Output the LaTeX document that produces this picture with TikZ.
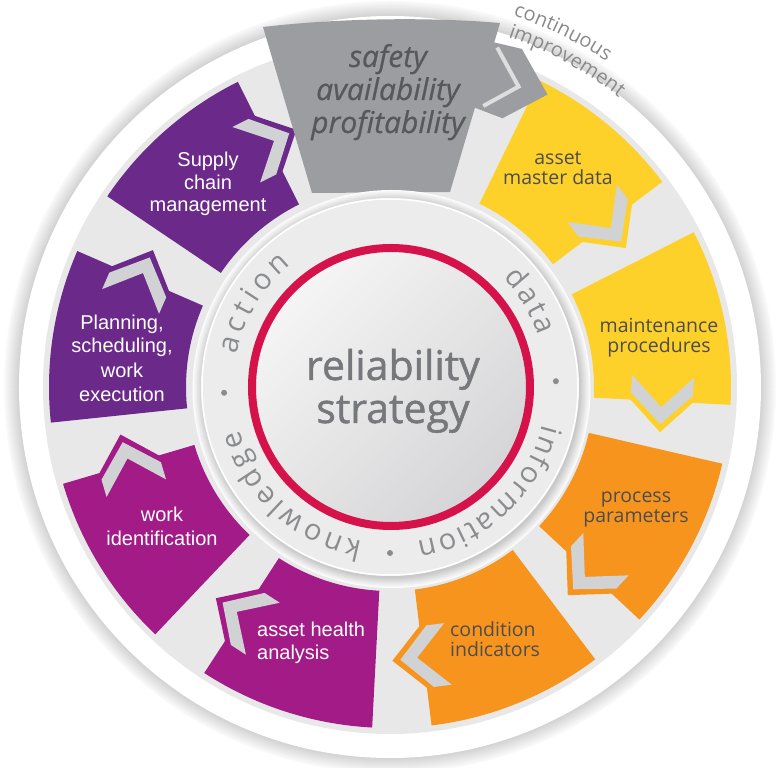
\documentclass[tikz,border=0pt]{standalone}
\usepackage{fontspec}
\setmainfont{Open Sans}
\newfontfamily\arialf{Liberation Sans}
\newfontfamily\ctrfont[FakeBold=1.2]{Open Sans}
\newfontfamily\grayfont[FakeBold=0.6]{Open Sans}
\usetikzlibrary{decorations.text}
\definecolor{cyel}{HTML}{FDD02A}
\definecolor{corg}{HTML}{F7941E}
\definecolor{cpur}{HTML}{6B2A89}
\definecolor{cmag}{HTML}{A31B86}
\definecolor{cgry}{HTML}{9C9DA0}
\definecolor{cchev}{HTML}{D1D2D4}
\definecolor{cband}{HTML}{E8E8E9}
\definecolor{cring}{HTML}{ECECED}
\definecolor{cred}{HTML}{D6124A}
\definecolor{ctxt}{HTML}{4D4D4F}
\definecolor{cgtxt}{HTML}{58585B}
\definecolor{cctr}{HTML}{77787B}
\definecolor{cringtxt}{HTML}{8B8C8E}
\definecolor{cci}{HTML}{8A8A8C}
\definecolor{cinA}{HTML}{F5F5F5}
\definecolor{cinB}{HTML}{D5D5D7}
\definecolor{cvline}{HTML}{DEDEDF}
\newcommand{\drawseg}[3]{%
  \fill[#3] (#1:204pt) -- (#1:341pt) arc[start angle=#1, end angle=#2, radius=341pt]
     -- (#2:204pt) arc[start angle=#2, end angle=#1, radius=204pt] -- cycle;
  \begin{scope}[rotate=#2]
    \fill[#3] (236,20) -- (236,5) -- (272,-31) -- (308,5) -- (308,20) -- cycle;
    \fill[cchev] (272,-23) -- (303,7) -- (303,25) -- (272,-6) -- (241,25) -- (241,7) -- cycle;
  \end{scope}}
\tikzset{
  seglabel/.style={inner sep=0pt, text=ctxt, font=\fontsize{19.5}{20}\selectfont},
  purlabel/.style={inner sep=0pt, text=white, font=\arialf\fontsize{20}{22}\selectfont},
  graylabel/.style={inner sep=0pt, text=cgtxt, font=\grayfont\itshape\fontsize{30}{33}\selectfont},
  ctrlabel/.style={inner sep=0pt, text=cctr, font=\ctrfont\fontsize{41}{43}\selectfont},
  ringtext/.style={decorate, decoration={text along path, text align=fit to path,
     text color=cringtxt, text={|\fontsize{29}{29}\selectfont|#1}}},
  citext/.style={decorate, decoration={text along path, text align=center,
     text color=cci, text={|\fontsize{20}{20}\selectfont|#1}}},
}
\begin{document}
\begin{tikzpicture}[x=1pt,y=1pt]
\useasboundingbox (-390,-381) rectangle (390,387);
\fill[white] (-390,-381) rectangle (390,387);
% outer rim shadow
\foreach \k in {15,14,...,0} {
  \pgfmathsetmacro{\op}{2+16*(1-\k/15)}
  \fill[black!\op] (0,0) circle[radius={(371+\k)*1pt}];
}
\fill[white] (0,0) circle[radius=371pt];
\fill[cband] (0,0) circle[radius=347pt];
% segments
\drawseg{64}{37}{cyel}
\drawseg{27}{-3}{cyel}
\drawseg{-13}{-43}{corg}
\drawseg{-53}{-83}{corg}
\drawseg{-93}{-123}{cmag}
\drawseg{-133.5}{-163.5}{cmag}
\drawseg{186}{156.5}{cpur}
\drawseg{146}{116.5}{cpur}
% gray top segment
\fill[cgry] (-127,360) .. controls (-50,369) and (40,370) .. (110,364) -- (60,195) -- (-78,194) -- cycle;
\begin{scope}[rotate=72.8]
  \fill[cgry] (360,3) -- (362,-26) -- (326,-64) -- (290,-28) -- (292,3) -- cycle;
  \draw[cvline, line width=4pt] (356,-2) -- (325,-34) -- (296,-6);
\end{scope}
% inner ring with shadow
\foreach \k in {10,9,...,0} {
  \pgfmathsetmacro{\op}{1+20*(1-\k/10)}
  \fill[black!\op] (1.5,-2) circle[radius={(189+\k)*1pt}];
}
\fill[cring] (0,0) circle[radius=189pt];
\draw[white, line width=1.5pt] (0,0) circle[radius=188pt];
\shade[top color=cinA, bottom color=cinB, shading angle=45] (1,0) circle[radius=137pt];
\draw[cred, line width=8pt] (1,0) circle[radius=139pt];
% ring texts
\path[ringtext=data] (44:157pt) arc[start angle=44, end angle=19, radius=157pt];
\path[ringtext=information] (-14:157pt) arc[start angle=-14, end angle=-80, radius=157pt];
\path[ringtext=knowledge] (-100:157pt) arc[start angle=-100, end angle=-164, radius=157pt];
\path[ringtext=action] (168:157pt) arc[start angle=168, end angle=129, radius=157pt];
\fill[cringtxt] (2:166pt) circle[radius=3pt];
\fill[cringtxt] (-90:166pt) circle[radius=3pt];
\fill[cringtxt] (182:166pt) circle[radius=3pt];
% continuous improvement
\path[citext=continuous] (82:391pt) arc[start angle=82, end angle=46, radius=391pt];
\path[citext=improvement] (80:369pt) arc[start angle=80, end angle=43, radius=369pt];
% center
\node[ctrlabel, anchor=base] (c1) at (3,7) {reliability};
\node[ctrlabel, anchor=base] (c2) at (3,-36) {strategy};
% gray labels
\node[graylabel, anchor=base] (g1) at (-2,320) {safety};
\node[graylabel, anchor=base] (g2) at (-2,287) {availability};
\node[graylabel, anchor=base] (g3) at (-2,254) {profitability};
% yellow/orange labels
\node[seglabel, anchor=base] (a1) at (168,222) {asset};
\node[seglabel, anchor=base] (a2) at (168,202) {master data};
\node[seglabel, anchor=base] (m1) at (269,54) {maintenance};
\node[seglabel, anchor=base] (m2) at (269,34) {procedures};
\node[seglabel, anchor=base] (p1) at (246,-116) {process};
\node[seglabel, anchor=base] (p2) at (246,-136) {parameters};
\node[seglabel, anchor=base west] (k1) at (60,-250) {condition};
\node[seglabel, anchor=base west] (k2) at (60,-270) {indicators};
% purple labels
\node[purlabel, anchor=base west] (h1) at (-133,-250) {asset health};
\node[purlabel, anchor=base west] (h2) at (-133,-273) {analysis};
\node[purlabel, anchor=base] (w1) at (-228,-135) {work};
\node[purlabel, anchor=base] (w2) at (-228,-159) {identification};
\node[purlabel, anchor=base] (l1) at (-268,57) {Planning,};
\node[purlabel, anchor=base] (l2) at (-268,34) {scheduling,};
\node[purlabel, anchor=base] (l3) at (-268,9) {work};
\node[purlabel, anchor=base] (l4) at (-268,-15) {execution};
\node[purlabel, anchor=base] (s1) at (-182,220) {Supply};
\node[purlabel, anchor=base] (s2) at (-182,197) {chain};
\node[purlabel, anchor=base] (s3) at (-182,175) {management};
\end{tikzpicture}
\end{document}
